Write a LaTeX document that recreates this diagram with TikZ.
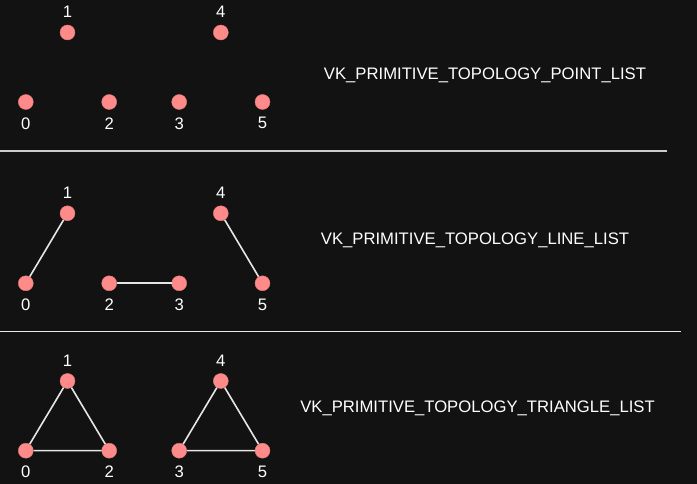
\documentclass[tikz,border=0pt]{standalone}
\usepackage{fontspec}
\setmainfont{Liberation Sans}
\definecolor{bg}{HTML}{121212}
\definecolor{dotc}{HTML}{FF8A8A}
\definecolor{dotedge}{HTML}{E07878}
\definecolor{edgec}{HTML}{E6E6E6}
\definecolor{sepa}{HTML}{CCCCCC}
\definecolor{sepb}{HTML}{E8E8E8}
\begin{document}
\begin{tikzpicture}[x=0.75pt,y=-0.75pt,
  vert/.style={circle,fill=dotc,draw=dotedge,line width=0.3pt,minimum size=11.25pt,inner sep=0pt},
  num/.style={text=white,font=\fontsize{12.5}{14}\selectfont,inner sep=0pt},
  title/.style={text=white,font=\fontsize{12.5}{14}\selectfont,inner sep=0pt},
  edge/.style={draw=edgec,line width=1.2pt},
  sep/.style={line width=1.3pt}]
\fill[bg] (0,0) rectangle (697,484);
\useasboundingbox (0,0) rectangle (697,484);
% rows
\foreach \r/\yt/\yb in {a/32.5/102, b/213.3/283.3, c/381/450.7}{
  \node[vert] (\r0) at (25.8,\yb) {};
  \node[vert] (\r1) at (67.5,\yt) {};
  \node[vert] (\r2) at (109.2,\yb) {};
  \node[vert] (\r3) at (179.2,\yb) {};
  \node[vert] (\r4) at (220.8,\yt) {};
  \node[vert] (\r5) at (262.5,\yb) {};
  \node[num] (\r l0) at (25.8,\yb+21.3) {0};
  \node[num] (\r l1) at (67.5,\yt-20.6) {1};
  \node[num] (\r l2) at (109.2,\yb+21.3) {2};
  \node[num] (\r l3) at (179.2,\yb+21.3) {3};
  \node[num] (\r l4) at (220.8,\yt-20.6) {4};
  \node[num] (\r l5) at (262.5,\yb+21.3) {5};
}
% line list edges
\draw[edge] (b0) -- (b1);
\draw[edge] (b2) -- (b3);
\draw[edge] (b4) -- (b5);
% triangle list edges
\draw[edge] (c0) -- (c1) -- (c2) -- (c0);
\draw[edge] (c3) -- (c4) -- (c5) -- (c3);
% titles
\node[title] (t1) at (485,75) {VK\_PRIMITIVE\_TOPOLOGY\_POINT\_LIST};
\node[title] (t2) at (475,240.5) {VK\_PRIMITIVE\_TOPOLOGY\_LINE\_LIST};
\node[title] (t3) at (477.5,408) {VK\_PRIMITIVE\_TOPOLOGY\_TRIANGLE\_LIST};
% separators
\coordinate (s1a) at (0,151);
\coordinate (s1b) at (667,151);
\coordinate (s2a) at (0,331.5);
\coordinate (s2b) at (681,331.5);
\draw[sep,draw=sepa] (s1a) -- (s1b);
\draw[sep,draw=sepb] (s2a) -- (s2b);
\end{tikzpicture}
\end{document}
